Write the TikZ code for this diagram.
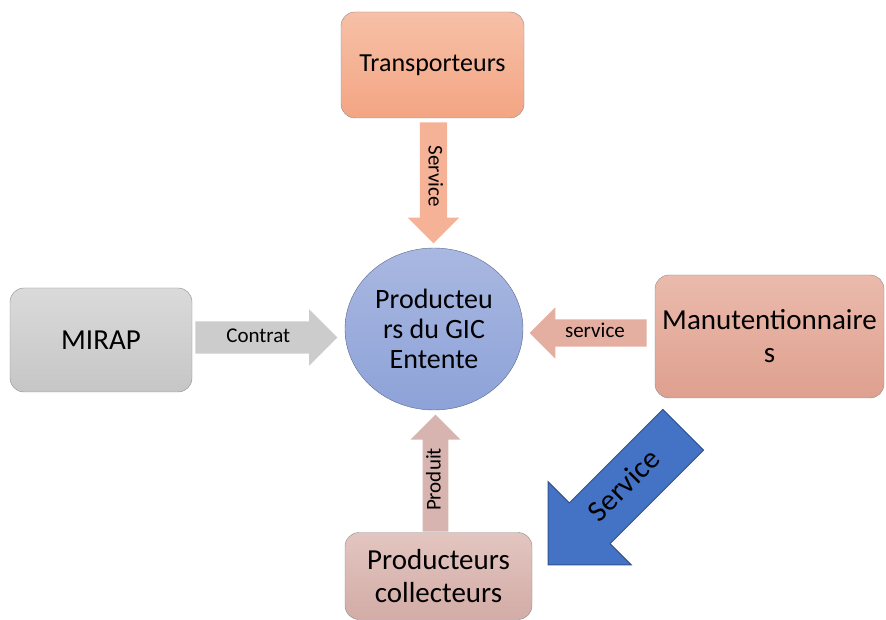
\documentclass[tikz,border=0pt]{standalone}
\usepackage{fontspec}
\setmainfont{Carlito}
\usetikzlibrary{shapes.geometric, shapes.arrows, calc}

\definecolor{transtop}{HTML}{F6C0A7}
\definecolor{transbot}{HTML}{F4A583}
\definecolor{mirtop}{HTML}{DADADA}
\definecolor{mirbot}{HTML}{C6C6C6}
\definecolor{gictop}{HTML}{A9B8E1}
\definecolor{gicbot}{HTML}{8DA2D8}
\definecolor{mantop}{HTML}{EABAAC}
\definecolor{manbot}{HTML}{DFA08F}
\definecolor{prodtop}{HTML}{E3C5C0}
\definecolor{prodbot}{HTML}{D3ACA6}
\definecolor{servblue}{HTML}{4472C4}
\definecolor{servline}{HTML}{2F528F}

\begin{document}
\begin{tikzpicture} % one unit is one pixel of the drawing
    % boxes round the centre, block arrows between them
    [x=1pt, y=1pt,
      box/.style={draw=black!45, rounded corners=14pt, align=center, inner sep=2pt,
        font=\fontsize{29}{33}\selectfont},
      flow/.style={single arrow, anchor=tail, inner xsep=2pt, text height=15pt, text depth=5pt,
        single arrow head extend=12pt, font=\fontsize{21}{24}\selectfont}]
    \useasboundingbox (0,0) rectangle (886,619);

    \node[box, top color=transtop, bottom color=transbot, minimum width=183pt,
      minimum height=106pt, font=\fontsize{26}{30}\selectfont] (trans) at (432.5,554) {Transporteurs};
    \node[ellipse, draw=black!35!gicbot, top color=gictop, bottom color=gicbot, inner sep=0pt,
      minimum width=178pt, minimum height=162pt, align=center,
      font=\fontsize{28}{30}\selectfont] (gic) at (434,290) {Producteu\\rs du GIC\\Entente};
    \node[box, top color=mirtop, bottom color=mirbot, minimum width=182pt,
      minimum height=104pt] (mirap) at (101,279) {MIRAP};
    \node[box, top color=mantop, bottom color=manbot, minimum width=229pt,
      minimum height=123pt] (manut) at (769.5,282.5) {Manutentionnaire\\s};
    \node[box, top color=prodtop, bottom color=prodbot, minimum width=187pt,
      minimum height=87pt] (prod) at (438.5,43) {Producteurs\\collecteurs};

    % each arrow starts (tail) just off the box it leaves
    \node[flow, fill=transbot!85!white, rotate=-90, inner ysep=3.5pt, minimum height=121pt,
      minimum width=50pt] (servtrans) at ($(trans.south)+(1,-4)$) {Service};
    \node[flow, fill=mirbot!90!white, inner ysep=6pt, minimum height=142pt,
      minimum width=55pt] (contrat) at ($(mirap.east)+(3,2.5)$) {Contrat};
    \node[flow, fill=manbot!85!white, shape border rotate=180, inner ysep=3.5pt,
      minimum height=117pt, minimum width=51pt] (servman) at ($(manut.west)+(-8,3.5)$) {service};
    \node[flow, fill=prodbot!90!white, rotate=90, inner ysep=2.5pt, minimum height=117pt,
      minimum width=50pt] (produit) at ($(prod.north)+(-3,0.5)$) {Produit};
    % big blue arrow from the handlers down to the collectors
    \node[flow, fill=servblue, draw=servline, line width=1pt, rotate=45, shape border rotate=180,
      text height=21pt, text depth=7pt, inner ysep=14.3pt, single arrow head extend=30pt,
      minimum height=191pt, minimum width=117pt,
      font=\fontsize{30}{34}\selectfont] (servbig) at (683.5,189.5) {Service};
\end{tikzpicture}
\end{document}
